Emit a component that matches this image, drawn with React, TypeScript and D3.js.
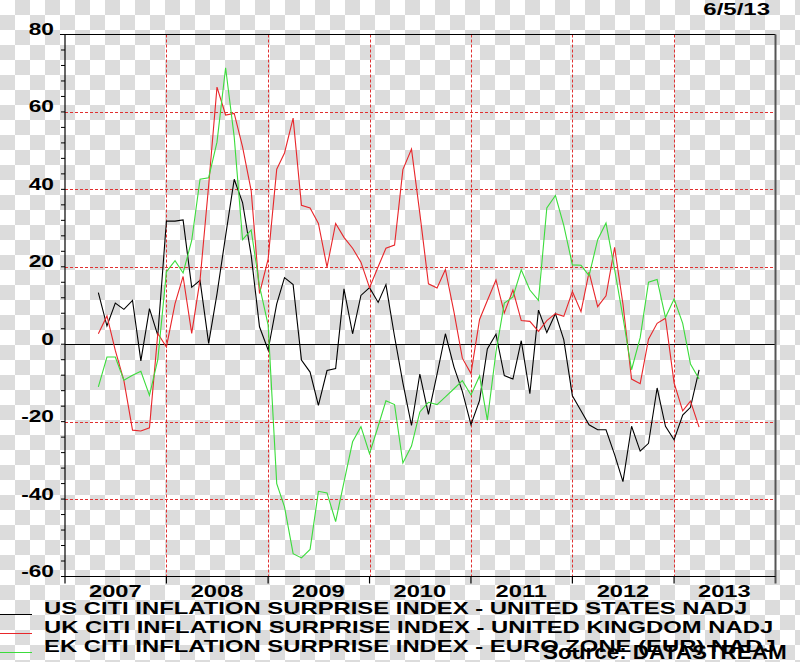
import React, { useEffect, useRef } from 'react';
import * as d3 from 'd3';

// monthly readings, first value = May 2007
const START_MONTH = new Date(2007, 4, 1);

const usIndex = [
  13.3, 4.7, 10.6, 9.0, 11.3, -4.3, 9.2, 2.3,
  31.8, 31.8, 32.1, 14.7, 16.5, 0.2, 13, 28, 42.6, 36.6, 23.0, 4.5,
  -1.5, 10.4, 17.2, 15.4, -4.1, -7.2, -15.8, -6.8, -6.3, 14.3, 2.7, 12.6,
  14.6, 10.8, 15.4, 2, -10, -21, -7.7, -18.1, -7.7, 2.7, -5.9, -12.2,
  -20.8, -14.5, -1.2, 2.6, -8.1, -9.0, 0.9, -12.8, 8.8, 3.0, 7.9, 1.2,
  -13.3, -17.2, -20.8, -22.1, -22.1, -28.5, -35.5, -21.2, -27.6, -25.6, -11.3, -21.2,
  -24.7, -18.3, -16.3, -6.6,
];

const ukIndex = [
  2.7, 7.3, -1.6, -9.4, -22.2, -22.4, -21.6, 2.8,
  -0.7, 10.5, 17.5, 2.8, 16.6, 41, 66.4, 59.2, 59.6, 51.0, 39.7, 13.1,
  22, 45.2, 49.4, 58.4, 35.9, 35.2, 31.2, 19.9, 31.2, 27.6, 24.8, 21.2,
  14.6, 20, 24.8, 25.6, 45.1, 50.4, 33.8, 15.6, 14.5, 19.3, 8.3, -3.6,
  -7.6, 6.4, 11.3, 16.6, 8.1, 14.0, 6.1, 5.9, 3.3, 6.1, 7.9, 7.2,
  13.6, 8.4, 18.6, 9.7, 12.5, 25, 10.4, -9.0, -10.2, 1.3, 5.4, 6.7,
  -10, -17.2, -14.7, -21.4,
];

const ezIndex = [
  -11.0, -3.3, -3.3, -9.3, -8.0, -7.0, -13.2, -4.0,
  18.7, 21.6, 18.4, 26.8, 42.6, 43.0, 52.2, 71.4, 53.5, 27.0, 29.5, 15,
  5, -36, -42, -54.1, -55.2, -53.0, -38.0, -38.4, -45.8, -35.6, -25.2, -21.3,
  -28.3, -21.2, -14.6, -15.6, -30.7, -26.3, -17.5, -15.0, -15.6, -13.6, -11.5, -9.4,
  -13.1, -8.2, -19.6, -2, 10.6, 12.2, 19.2, 14.0, 11.3, 35.2, 38.4, 30.7,
  20.5, 20.4, 17.7, 27.0, 31.3, 19.3, 7, -6.6, 1.7, 16.0, 16.7, 6.9,
  11.7, 5.4, -5.1, -9,
];

const years = [2007, 2008, 2009, 2010, 2011, 2012, 2013];
const yLabels = [80, 60, 40, 20, 0, -20, -40, -60];
const yGrid = [60, 40, 20, -20, -40];

const legendItems = [
  { label: 'US CITI INFLATION SURPRISE INDEX - UNITED STATES NADJ', color: '#000000' },
  { label: 'UK CITI INFLATION SURPRISE INDEX - UNITED KINGDOM NADJ', color: '#e8262a' },
  { label: 'EK CITI INFLATION SURPRISE INDEX - EURO ZONE (EUR) NADJ', color: '#3cdc3c' },
];

const dateStamp = '6/5/13';
const sourceText = 'Source: DATASTREAM';

const W = 800;
const H = 662;
const FONT = '"Liberation Sans", Arial, sans-serif';
const STRETCH = 1.48;

export default function App() {
  const svgRef = useRef<SVGSVGElement>(null);

  useEffect(() => {
    if (!svgRef.current) return;
    const svg = d3.select(svgRef.current);
    svg.selectAll('*').remove();

    const left = 65, right = 775.5, top = 34.5, bottom = 576.5;

    const x = d3.scaleTime()
      .domain([new Date(2007, 0, 1), new Date(2014, 0, 1)])
      .range([left, right]);
    const y = d3.scaleLinear().domain([-60, 80]).range([bottom, top]);

    // checkered backdrop
    const defs = svg.append('defs');
    const pat = defs.append('pattern')
      .attr('id', 'checks')
      .attr('width', 30).attr('height', 30)
      .attr('patternUnits', 'userSpaceOnUse');
    pat.append('rect').attr('width', 30).attr('height', 30).attr('fill', '#ffffff');
    pat.append('rect').attr('x', 15).attr('y', 0).attr('width', 15).attr('height', 15).attr('fill', '#dcdcdc');
    pat.append('rect').attr('x', 0).attr('y', 15).attr('width', 15).attr('height', 15).attr('fill', '#dcdcdc');
    svg.append('rect').attr('width', W).attr('height', H).attr('fill', 'url(#checks)');

    const stretchedText = (
      tx: number, ty: number, str: string, anchor: string, size: number, sx = STRETCH
    ) => {
      svg.append('g')
        .attr('transform', `translate(${tx},${ty}) scale(${sx},1)`)
        .append('text')
        .attr('text-anchor', anchor)
        .attr('font-family', FONT)
        .attr('font-weight', 'bold')
        .attr('font-size', size)
        .attr('fill', '#000')
        .text(str);
    };

    // grid
    const gridColor = '#e03030';
    svg.append('g').selectAll('line')
      .data(yGrid)
      .enter().append('line')
      .attr('x1', left).attr('x2', right)
      .attr('y1', d => Math.round(y(d)) + 0.5).attr('y2', d => Math.round(y(d)) + 0.5)
      .attr('stroke', gridColor)
      .attr('stroke-width', 1)
      .attr('stroke-dasharray', '3,2');

    const yearStarts = years.slice(1).map(yr => new Date(yr, 0, 1));
    svg.append('g').selectAll('line')
      .data(yearStarts)
      .enter().append('line')
      .attr('x1', d => Math.round(x(d)) + 0.5).attr('x2', d => Math.round(x(d)) + 0.5)
      .attr('y1', top).attr('y2', bottom)
      .attr('stroke', gridColor)
      .attr('stroke-width', 1)
      .attr('stroke-dasharray', '3,2');

    // zero line
    svg.append('line')
      .attr('x1', left).attr('x2', right)
      .attr('y1', Math.round(y(0)) + 0.5).attr('y2', Math.round(y(0)) + 0.5)
      .attr('stroke', '#000').attr('stroke-width', 1);

    // frame
    svg.append('line').attr('x1', 60).attr('x2', right).attr('y1', top).attr('y2', top)
      .attr('stroke', '#000').attr('stroke-width', 1.2);
    svg.append('line').attr('x1', right).attr('x2', right).attr('y1', top).attr('y2', bottom + 7)
      .attr('stroke', '#555').attr('stroke-width', 2);
    svg.append('line').attr('x1', left).attr('x2', left).attr('y1', top).attr('y2', bottom + 7)
      .attr('stroke', '#000').attr('stroke-width', 1.2);
    svg.append('line').attr('x1', left).attr('x2', right).attr('y1', bottom).attr('y2', bottom)
      .attr('stroke', '#000').attr('stroke-width', 1.2);

    // left minor ticks every 4
    svg.append('g').selectAll('line')
      .data(d3.range(-60, 81, 4))
      .enter().append('line')
      .attr('x1', 61).attr('x2', left)
      .attr('y1', d => y(d)).attr('y2', d => y(d))
      .attr('stroke', '#000').attr('stroke-width', 1);

    // bottom year ticks
    svg.append('g').selectAll('line')
      .data(yearStarts)
      .enter().append('line')
      .attr('x1', d => x(d)).attr('x2', d => x(d))
      .attr('y1', bottom).attr('y2', bottom + 7)
      .attr('stroke', '#000').attr('stroke-width', 1.2);

    // y labels
    yLabels.forEach(v => stretchedText(54, y(v) + 0.5, String(v), 'end', 16, 1.42));

    // year labels, centred on mid year
    years.forEach(yr => stretchedText(x(new Date(yr, 6, 1)), 597, String(yr), 'middle', 16));

    // series
    const dates = usIndex.map((_, i) => d3.timeMonth.offset(START_MONTH, i));
    const line = d3.line<number>()
      .x((_, i) => x(dates[i]))
      .y(d => y(d));

    [usIndex, ukIndex, ezIndex].forEach((series, i) => {
      svg.append('path')
        .datum(series)
        .attr('d', line)
        .attr('fill', 'none')
        .attr('stroke', legendItems[i].color)
        .attr('stroke-width', 1.1)
        .attr('stroke-linejoin', 'miter');
    });

    // legend
    const legendY = [614, 633, 652];
    legendItems.forEach((item, i) => {
      svg.append('line')
        .attr('x1', 0).attr('x2', 32)
        .attr('y1', legendY[i] + 0.5).attr('y2', legendY[i] + 0.5)
        .attr('stroke', item.color).attr('stroke-width', 1);
      stretchedText(44, legendY[i], item.label, 'start', 16, 1.49);
    });

    // date + source
    stretchedText(770, 15, dateStamp, 'end', 16, 1.5);
    stretchedText(543, 659, sourceText, 'start', 21, 1.07);
  }, []);

  return (
    <svg
      ref={svgRef}
      width={W}
      height={H}
      style={{ position: 'absolute', left: 0, top: 0, display: 'block' }}
    />
  );
}
